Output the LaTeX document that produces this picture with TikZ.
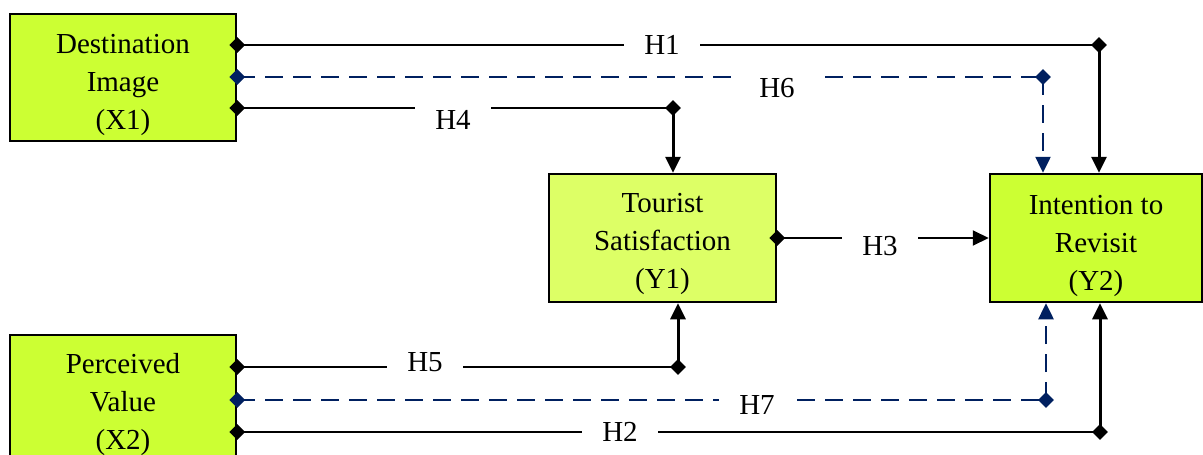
\documentclass[tikz,border=0pt]{standalone}
\usepackage{fontspec}
\setmainfont{Liberation Serif}
\usetikzlibrary{arrows.meta,shapes.geometric}
\definecolor{limeA}{RGB}{204,255,51}
\definecolor{limeB}{RGB}{221,255,102}
\definecolor{navyline}{RGB}{0,32,96}
\begin{document}
\begin{tikzpicture}[x=1pt,y=-1pt,
  box/.style={draw=black, line width=2.5pt, inner sep=0pt},
  txt/.style={align=center, inner sep=0pt, font=\fontsize{29}{38}\selectfont},
  lab/.style={fill=white, inner xsep=20pt, inner ysep=4pt, font=\fontsize{29}{34}\selectfont},
  hline/.style={draw=black, line width=2pt},
  vline/.style={draw=black, line width=3pt},
  dline/.style={draw=navyline, line width=2.5pt, dash pattern=on 18pt off 10pt},
  endtip/.style={-{Triangle[length=16pt,width=15pt]}},
  cdia/.style={diamond, fill=black, inner sep=0pt, minimum size=16pt},
  ndia/.style={diamond, fill=navyline, inner sep=0pt, minimum size=16pt}]
\useasboundingbox (0,0) rectangle (1203,455);
\clip (0,0) rectangle (1203,455);

% boxes
\node[box, fill=limeA, minimum width=226pt, minimum height=127pt] (x1) at (123,77.5) {};
\node[box, fill=limeA, minimum width=226pt, minimum height=134pt] (x2) at (123,402) {};
\node[box, fill=limeB, minimum width=227pt, minimum height=128pt] (y1) at (662.5,238) {};
\node[box, fill=limeA, minimum width=212pt, minimum height=128pt] (y2) at (1096,238) {};
\node[txt] (x1t) at ([yshift=-7pt]x1.center) {Destination\\Image\\(X1)};
\node[txt] (x2t) at ([yshift=-3pt]x2.center) {Perceived\\Value\\(X2)};
\node[txt] (y1t) at ([yshift=-6pt]y1.center) {Tourist\\Satisfaction\\(Y1)};
\node[txt] (y2t) at ([yshift=-8pt]y2.center) {Intention to\\Revisit\\(Y2)};

% corner coordinates
\coordinate (c1) at (1099,45);
\coordinate (c6) at (1043,77);
\coordinate (c4) at (673,108);
\coordinate (c5) at (678,367);
\coordinate (c7) at (1046,400);
\coordinate (c2) at (1100,432);

% H1
\draw[hline] (x1.east |- c1) -- (c1);
\draw[vline, endtip] (c1) -- (c1 |- y2.north);
\node[cdia] (s1) at (x1.east |- c1) {};
\node[cdia] (k1) at (c1) {};
% H6
\draw[dline] (x1.east |- c6) -- (c6);
\draw[dline, endtip] (c6) -- (c6 |- y2.north);
\node[ndia] (s6) at (x1.east |- c6) {};
\node[ndia] (k6) at (c6) {};
% H4
\draw[hline] (x1.east |- c4) -- (c4);
\draw[vline, endtip] (c4) -- (c4 |- y1.north);
\node[cdia] (s4) at (x1.east |- c4) {};
\node[cdia] (k4) at (c4) {};
% H3
\draw[hline, endtip] (y1.east) -- (y2.west);
\node[cdia] (s3) at (y1.east) {};
% H5
\draw[hline] (x2.east |- c5) -- (c5);
\draw[vline, endtip] (c5) -- (c5 |- y1.south);
\node[cdia] (s5) at (x2.east |- c5) {};
\node[cdia] (k5) at (c5) {};
% H7
\draw[dline] (x2.east |- c7) -- (c7);
\draw[dline, endtip] (c7) -- (c7 |- y2.south);
\node[ndia] (s7) at (x2.east |- c7) {};
\node[ndia] (k7) at (c7) {};
% H2
\draw[hline] (x2.east |- c2) -- (c2);
\draw[vline, endtip] (c2) -- (c2 |- y2.south);
\node[cdia] (s2) at (x2.east |- c2) {};
\node[cdia] (k2) at (c2) {};

% labels
\node[lab] (l1) at (662,45) {H1};
\node[lab] (l6) at (777,88) {H6};
\node[lab] (l4) at (453,120) {H4};
\node[lab] (l3) at (880,246) {H3};
\node[lab] (l5) at (425,362) {H5};
\node[lab] (l7) at (757,405) {H7};
\node[lab] (l2) at (620,432) {H2};
\end{tikzpicture}
\end{document}
